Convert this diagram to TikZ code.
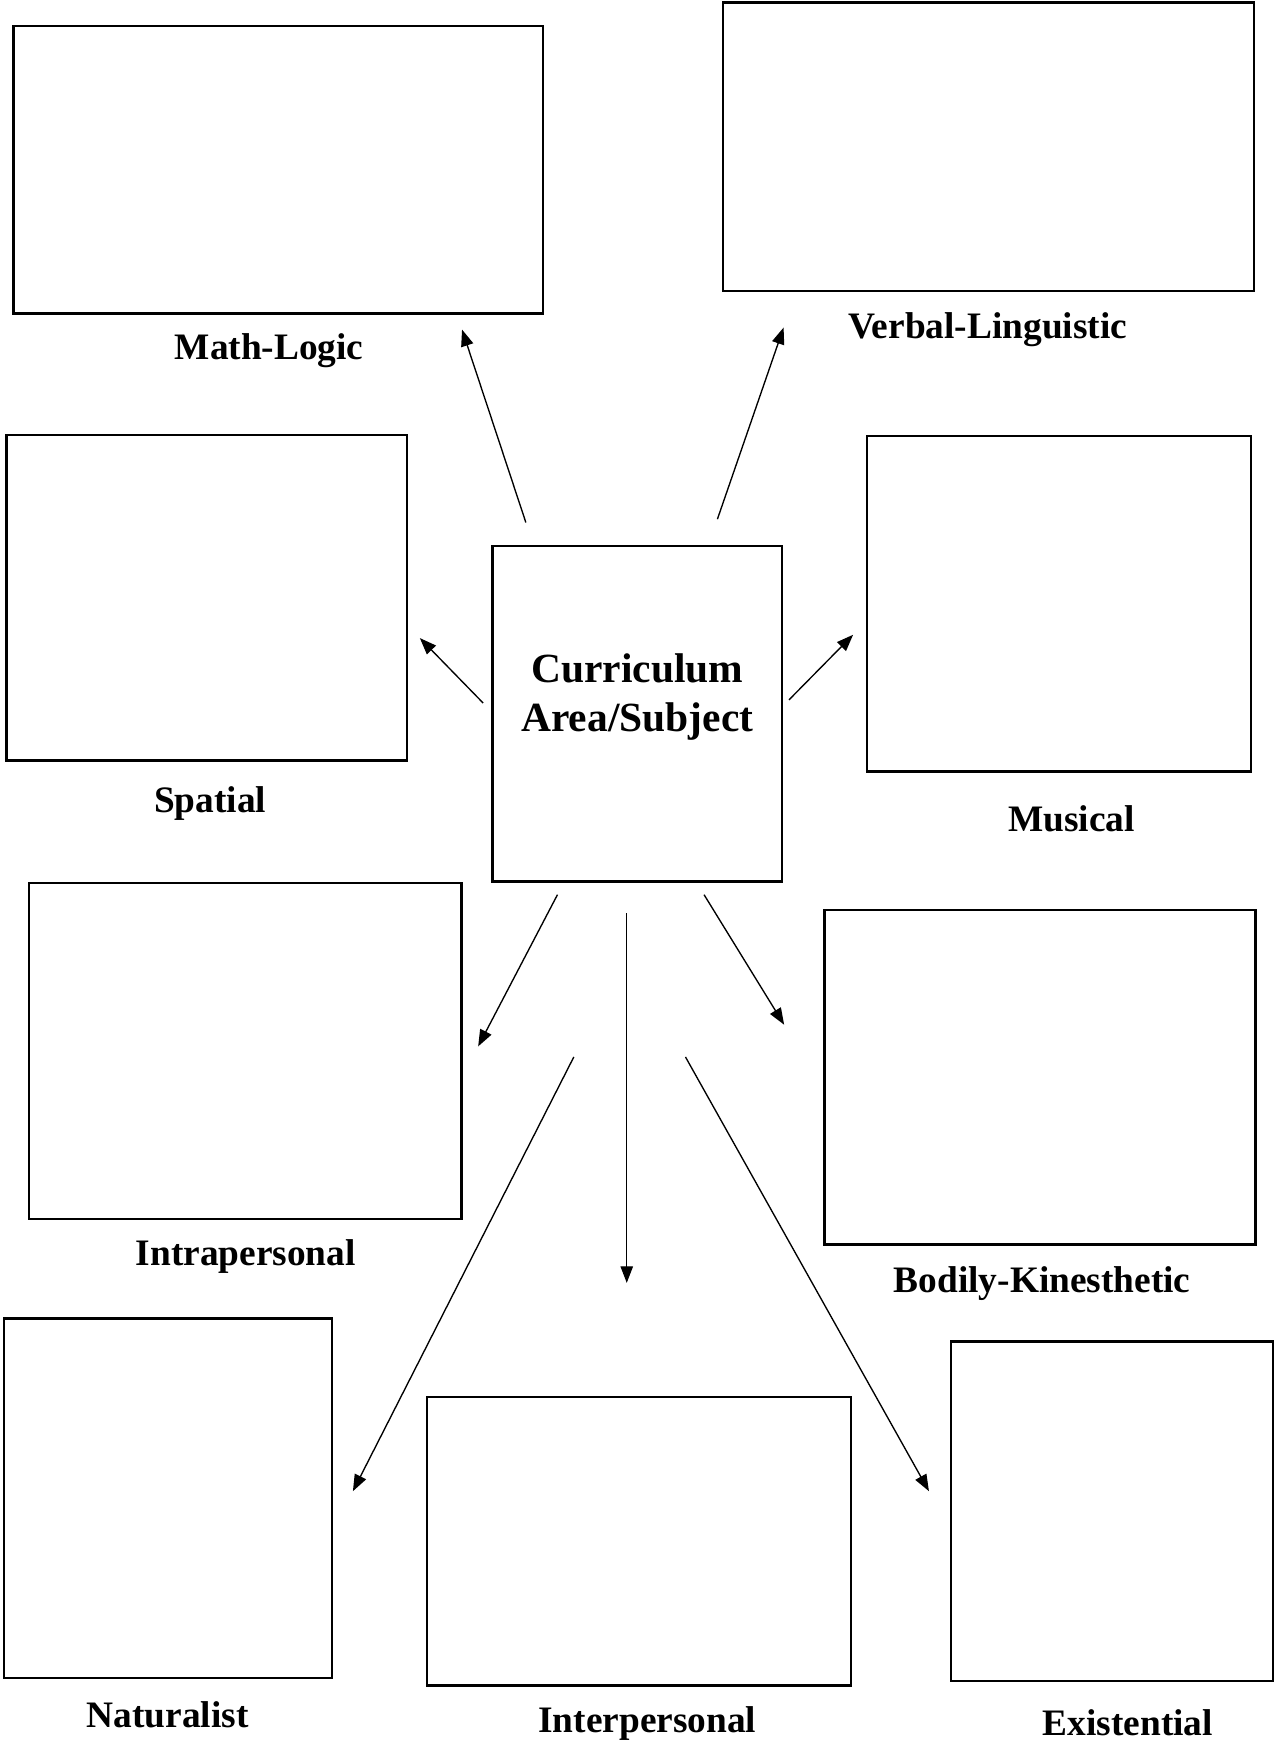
\documentclass[tikz,border=0pt]{standalone}
\usepackage{fontspec}
\setmainfont{Liberation Serif}
\usetikzlibrary{arrows.meta}
\newcommand{\px}{0.1884mm}

\begin{document}
\begin{tikzpicture}[
  x=0.1884mm, y=-0.1884mm,
  cell/.style 2 args={rectangle, draw=black, line width=1.2pt, inner sep=0pt,
                      minimum width=#1*\px, minimum height=#2*\px},
  tag/.style={inner sep=0pt, anchor=base, font=\fontsize{18}{21}\selectfont\bfseries},
  hubtxt/.style={inner sep=0pt, anchor=base, align=center,
                 font=\fontsize{20}{23.4}\selectfont\bfseries},
  harr/.style={-{Triangle[length=8pt, width=6pt]}, line width=0.65pt}
]
\useasboundingbox (0,0) rectangle (1146,1568);

% ── Centre: curriculum area ──────────────────────────────────────────────
\node[cell={260}{301.6}] (ctr) at (573,641.6) {};
\node[hubtxt] (ctrtxt) at (573,657.6) {Curriculum\\Area/Subject};

% ── Row 1: top boxes ─────────────────────────────────────────────────────
\node[cell={476}{258.6}]   (mathbox) at (250,152.7) {};
\node[cell={477.6}{259.1}] (verbbox) at (888.8,132) {};
\node[tag] (mathlbl) at (242,323.6) {Math-Logic};
\node[tag] (verblbl) at (888,304)   {Verbal-Linguistic};

% ── Row 2: beside the centre ─────────────────────────────────────────────
\node[cell={360}{292.7}]   (spatbox) at (186,537.4)   {};
\node[cell={345.5}{301.6}] (musbox)  at (952.2,542.8) {};
\node[tag] (spatlbl) at (189,730.4)   {Spatial};
\node[tag] (muslbl)  at (963.5,747.5) {Musical};

% ── Row 3: below the centre ──────────────────────────────────────────────
\node[cell={389}{302}]   (intrabox) at (220.5,945)   {};
\node[cell={387.5}{301}] (bodbox)   at (935.2,968.5) {};
\node[tag] (intralbl) at (221,1138)   {Intrapersonal};
\node[tag] (bodlbl)   at (937,1162.4) {Bodily-Kinesthetic};

% ── Row 4: bottom boxes ──────────────────────────────────────────────────
\node[cell={295}{323}]     (natbox)   at (151,1347)      {};
\node[cell={381}{259.2}]   (interbox) at (574.5,1385.8)  {};
\node[cell={289.5}{305.5}] (exisbox)  at (999.7,1358.7)  {};
\node[tag] (natlbl)   at (150.7,1553) {Naturalist};
\node[tag] (interlbl) at (582,1558)   {Interpersonal};
\node[tag] (exislbl)  at (1014,1560.5) {Existential};

% ── Arrow ends (free-standing, between the boxes) ────────────────────────
\coordinate (m0) at (472.8,469.8);  \coordinate (m1) at (415.4,296.3);
\coordinate (v0) at (645,466.8);    \coordinate (v1) at (704.5,294.5);
\coordinate (s0) at (434.4,632.1);  \coordinate (s1) at (377.5,573.7);
\coordinate (u0) at (709.4,629.2);  \coordinate (u1) at (767,570.7);
\coordinate (i0) at (501.2,804.4);  \coordinate (i1) at (429.9,940.8);
\coordinate (b0) at (633,804.4);    \coordinate (b1) at (705,921.3);
\coordinate (p0) at (563.5,820.9);  \coordinate (p1) at (563.5,1153.4);
\coordinate (n0) at (515.9,950.3);  \coordinate (n1) at (317.3,1340.7);
\coordinate (e0) at (616.3,950.3);  \coordinate (e1) at (835.2,1340.7);

% ── Arrows: centre → intelligences ───────────────────────────────────────
\draw[harr] (m0) -- (m1);
\draw[harr] (v0) -- (v1);
\draw[harr] (s0) -- (s1);
\draw[harr] (u0) -- (u1);
\draw[harr] (i0) -- (i1);
\draw[harr] (b0) -- (b1);
\draw[harr] (p0) -- (p1);
\draw[harr] (n0) -- (n1);
\draw[harr] (e0) -- (e1);

\end{tikzpicture}
\end{document}
